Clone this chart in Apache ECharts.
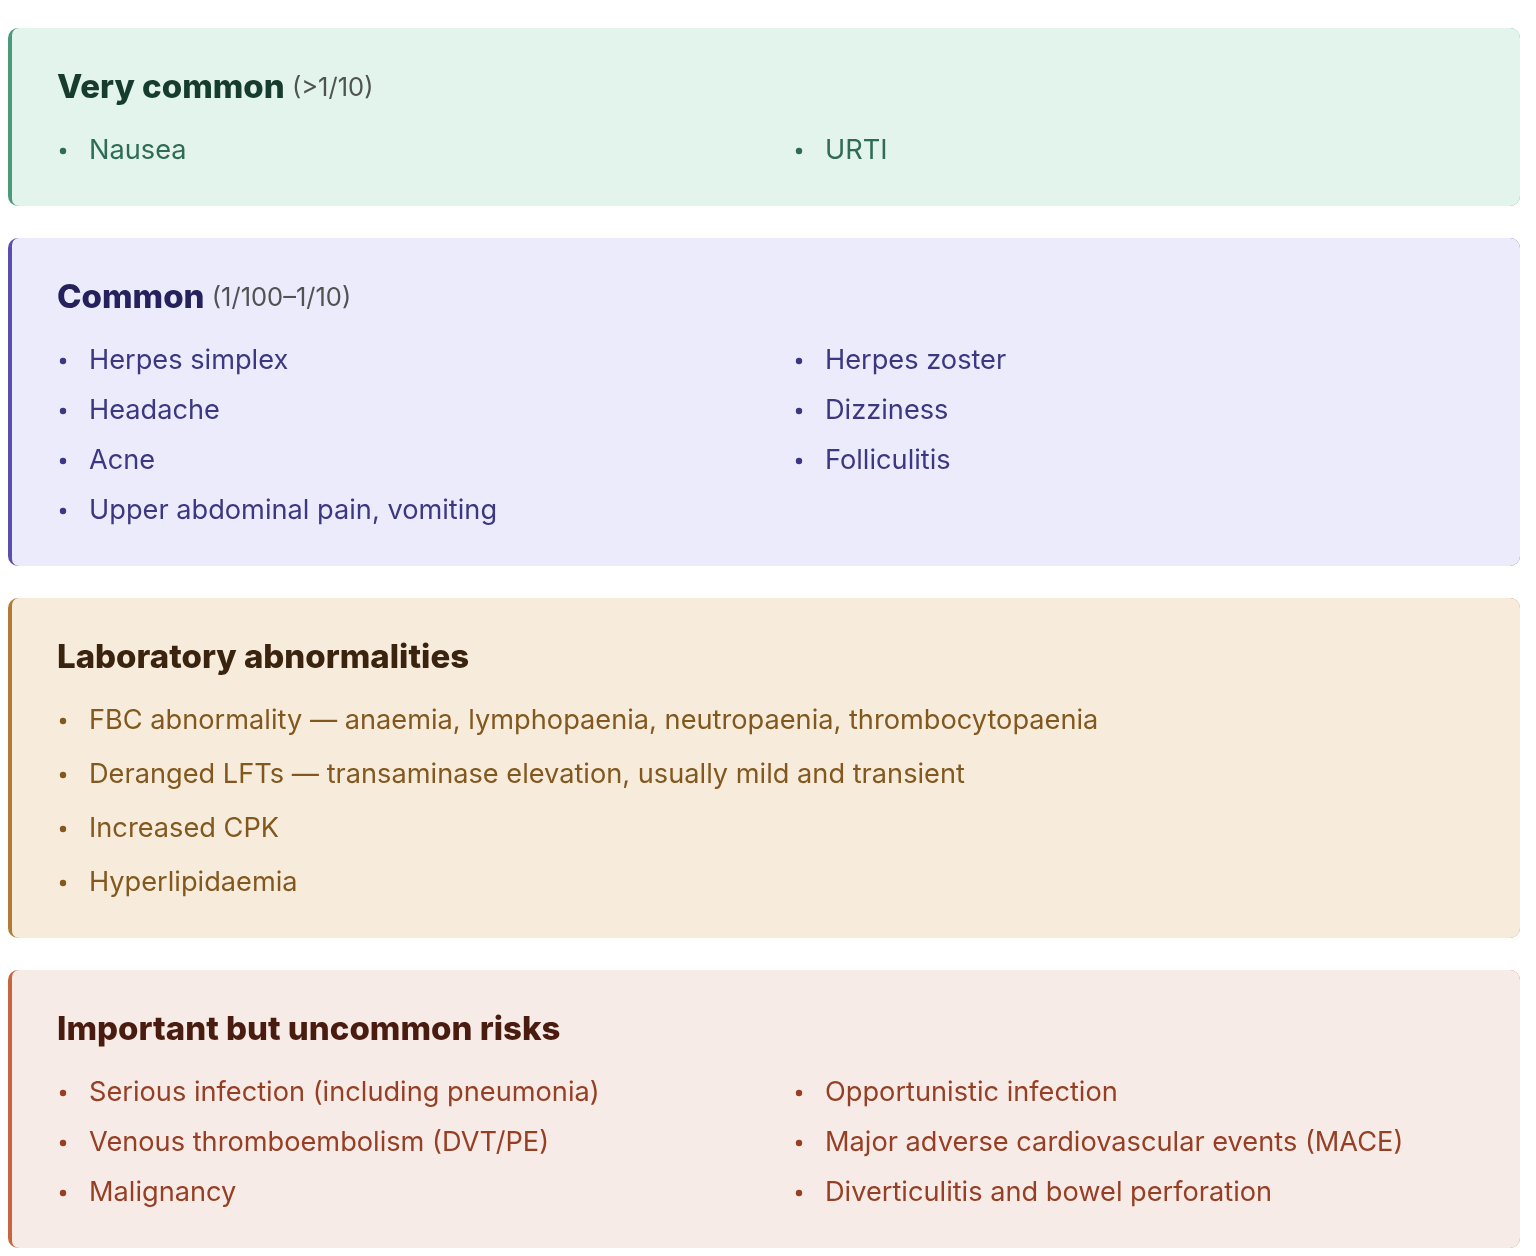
<!DOCTYPE html>
<html>
<head>
<meta charset="utf-8">
<script src="https://cdn.jsdelivr.net/npm/echarts@6/dist/echarts.min.js"></script>
<style>
  html, body { margin: 0; padding: 0; background: #ffffff; }
  #chart_box { width: 1536px; height: 1256px; }
</style>
</head>
<body>
<div id="chart_box"></div>
<script>
// groups, top to bottom
const groupTitles = ['Very common', 'Common', 'Laboratory abnormalities', 'Important but uncommon risks']
const groupRanges = ['(>1/10)', '(1/100–1/10)', '', '']
const groupColumns = [2, 2, 1, 2]
const veryCommonItems = ['Nausea', 'URTI']
const commonItems = [
    'Herpes simplex', 'Herpes zoster',
    'Headache', 'Dizziness',
    'Acne', 'Folliculitis',
    'Upper abdominal pain, vomiting'
]
const labItems = [
    'FBC abnormality — anaemia, lymphopaenia, neutropaenia, thrombocytopaenia',
    'Deranged LFTs — transaminase elevation, usually mild and transient',
    'Increased CPK',
    'Hyperlipidaemia'
]
const uncommonItems = [
    'Serious infection (including pneumonia)', 'Opportunistic infection',
    'Venous thromboembolism (DVT/PE)', 'Major adverse cardiovascular events (MACE)',
    'Malignancy', 'Diverticulitis and bowel perforation'
]
const groupItems = [veryCommonItems, commonItems, labItems, uncommonItems]

// card colours: background, left border, title, items
const themes = [
    { bg: '#e3f4ec', border: '#4c9a7a', title: '#163b2f', item: '#2f6b56' },
    { bg: '#ecebfb', border: '#5a4fae', title: '#24215c', item: '#3c3783' },
    { bg: '#f7ecdb', border: '#b27a35', title: '#3a2410', item: '#82581f' },
    { bg: '#f6ebe6', border: '#c8643e', title: '#4a1c10', item: '#963f24' }
]

let myChart = echarts.init(document.getElementById('chart_box'))

const FONT = 'Inter, "Noto Sans", "DejaVu Sans", sans-serif'
let cardLeft = 8
let cardWidth = 1512
let cardTop = 28
let cardGap = 32
let colOffset = 736
let elements = []

groupTitles.forEach((title, g) => {
    let th = themes[g]
    let items = groupItems[g]
    let cols = groupColumns[g]
    let rows = Math.ceil(items.length / cols)
    let rowStep = cols === 1 ? 54 : 50
    let cardHeight = 178 + (rows - 1) * rowStep

    // border colour underneath, background on top leaves a 4px left bar
    elements.push({
        type: 'rect',
        shape: { x: cardLeft, y: cardTop, width: cardWidth, height: cardHeight, r: 10 },
        style: { fill: th.border }
    })
    elements.push({
        type: 'rect',
        shape: { x: cardLeft + 4, y: cardTop, width: cardWidth - 4, height: cardHeight, r: [7, 10, 10, 7] },
        style: { fill: th.bg }
    })

    let titleText = '{t|' + title + (groupRanges[g] ? ' ' : '') + '}'
    if (groupRanges[g]) titleText += '{r|' + groupRanges[g] + '}'
    elements.push({
        type: 'text',
        x: 57,
        y: cardTop + 60,
        style: {
            text: titleText,
            verticalAlign: 'middle',
            rich: {
                t: { fontFamily: FONT, fontSize: 33, fontWeight: 800, fill: th.title, color: th.title },
                r: { fontFamily: FONT, fontSize: 25.5, fill: '#4f5352', color: '#4f5352' }
            }
        }
    })

    items.forEach((name, i) => {
        let row = Math.floor(i / cols)
        let col = i % cols
        let cy = cardTop + 123 + row * rowStep
        let bx = 63 + col * colOffset
        elements.push({
            type: 'circle',
            shape: { cx: bx, cy: cy, r: 3.2 },
            style: { fill: th.item }
        })
        elements.push({
            type: 'text',
            x: bx + 26,
            y: cy,
            style: {
                text: name,
                font: '27.2px ' + FONT,
                fill: th.item,
                verticalAlign: 'middle'
            }
        })
    })

    cardTop += cardHeight + cardGap
})

let option = {
    backgroundColor: '#ffffff',
    animation: false,
    graphic: { elements: elements }
}
myChart.setOption(option)
</script>
</body>
</html>
